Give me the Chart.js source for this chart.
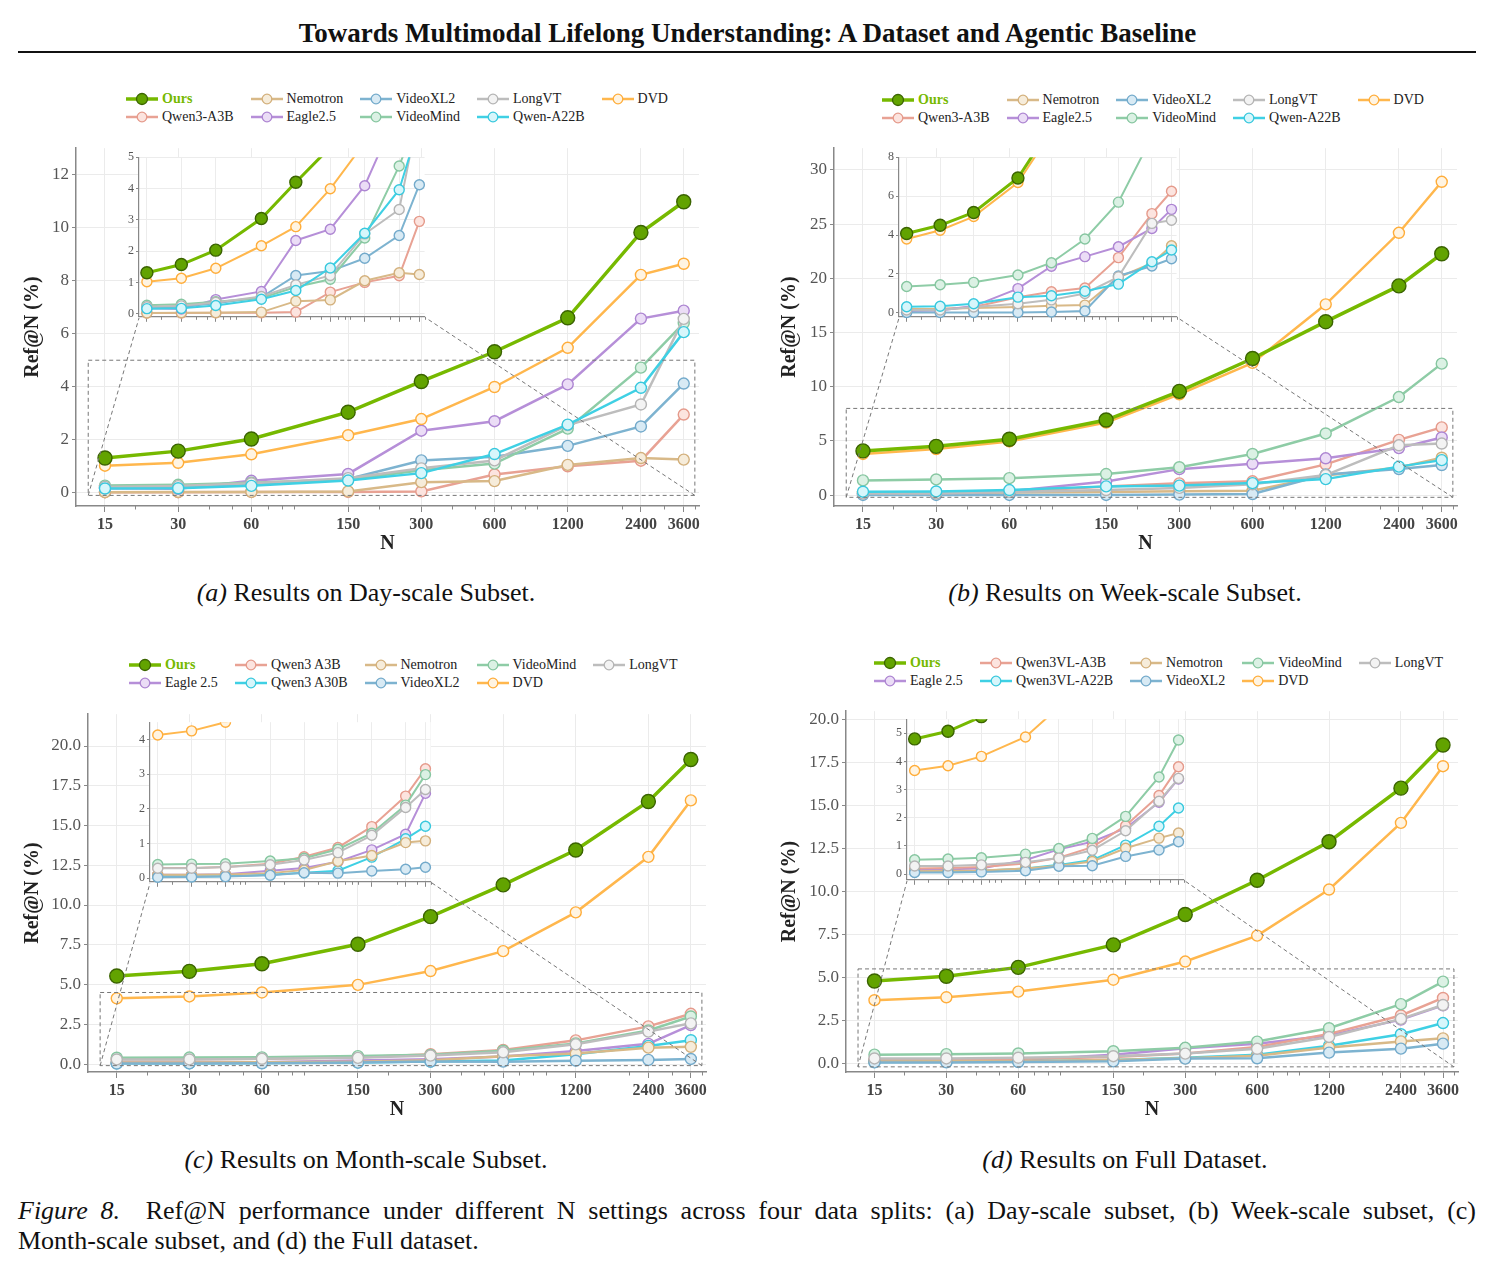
<!DOCTYPE html>
<html>
<head>
<meta charset="utf-8">
<script src="https://cdn.jsdelivr.net/npm/chart.js@4.4.1/dist/chart.umd.min.js"></script>
<style>
  body { margin: 0; background: #fff; font-family: "Liberation Serif", "Times New Roman", serif; color: #111; }
  #page { position: relative; width: 1495px; height: 1271px; overflow: hidden; }
  canvas { position: absolute; }
  #title { position: absolute; left: 0; width: 1495px; top: 17px; text-align: center; font-weight: bold; font-size: 27px; line-height: 32px; }
  #rule { position: absolute; left: 18px; width: 1458px; top: 51px; height: 2px; background: #111; }
  .legend { position: absolute; display: grid; grid-template-rows: 18px 18px; grid-auto-flow: column; column-gap: 17px; font-size: 14px; color: #222; }
  .li { display: flex; align-items: center; gap: 4px; white-space: nowrap; }
  .li.ours span { color: #76b900; font-weight: bold; }
  .cap { position: absolute; width: 700px; text-align: center; font-size: 26px; line-height: 30px; }
  .figcap { position: absolute; left: 18px; width: 1458px; font-size: 26px; line-height: 30px; }
</style>
</head>
<body>
<div id="page">
  <div id="title">Towards Multimodal Lifelong Understanding: A Dataset and Agentic Baseline</div>
  <div id="rule"></div>
  <div class="cap" style="left:16px;top:578px"><i>(a)</i> Results on Day-scale Subset.</div>
  <div class="cap" style="left:775px;top:578px"><i>(b)</i> Results on Week-scale Subset.</div>
  <div class="cap" style="left:16px;top:1145px"><i>(c)</i> Results on Month-scale Subset.</div>
  <div class="cap" style="left:775px;top:1145px"><i>(d)</i> Results on Full Dataset.</div>
  <div class="figcap" style="top:1196px;text-align:justify;text-align-last:justify"><i>Figure 8.</i>&nbsp; Ref@N performance under different N settings across four data splits: (a) Day-scale subset, (b) Week-scale subset, (c)</div>
  <div class="figcap" style="top:1226px">Month-scale subset, and (d) the Full dataset.</div>
</div>
<script>
// x positions (N) and minor log ticks
const nValues = [15, 30, 60, 150, 300, 600, 1200, 2400, 3600];
const nMinor = [20, 40, 50, 70, 80, 90, 200, 400, 500, 700, 800, 900, 2000, 3000, 4000];

// (a) Day-scale subset
const dayOurs      = [1.31, 1.57, 2.03, 3.04, 4.20, 5.32, 6.60, 9.82, 10.98];
const dayQwen3A3B  = [0.02, 0.02, 0.03, 0.03, 0.05, 0.69, 1.00, 1.21, 2.95];
const dayNemotron  = [0.02, 0.03, 0.03, 0.05, 0.40, 0.44, 1.05, 1.31, 1.25];
const dayEagle     = [0.17, 0.15, 0.45, 0.71, 2.34, 2.70, 4.09, 6.57, 6.87];
const dayVideoXL2  = [0.20, 0.22, 0.33, 0.52, 1.22, 1.36, 1.77, 2.50, 4.12];
const dayVideoMind = [0.27, 0.30, 0.38, 0.50, 0.85, 1.10, 2.42, 4.72, 6.40];
const dayLongVT    = [0.22, 0.25, 0.36, 0.55, 0.92, 1.22, 2.55, 3.33, 6.56];
const dayQwenA22B  = [0.16, 0.17, 0.26, 0.46, 0.74, 1.46, 2.57, 3.96, 6.06];
const dayDVD       = [1.02, 1.13, 1.45, 2.17, 2.78, 3.99, 5.47, 8.22, 8.64];

// (b) Week-scale subset
const weekOurs      = [4.08, 4.50, 5.16, 6.93, 9.57, 12.60, 16.00, 19.30, 22.26];
const weekQwen3A3B  = [0.20, 0.20, 0.30, 0.80, 1.09, 1.28, 2.84, 5.10, 6.25];
const weekNemotron  = [0.20, 0.20, 0.25, 0.30, 0.37, 0.40, 1.82, 2.55, 3.45];
const weekEagle     = [0.10, 0.12, 0.35, 1.25, 2.40, 2.89, 3.40, 4.34, 5.32];
const weekVideoXL2  = [0.02, 0.02, 0.02, 0.02, 0.05, 0.10, 1.90, 2.41, 2.78];
const weekVideoMind = [1.36, 1.45, 1.57, 1.95, 2.58, 3.80, 5.69, 9.05, 12.13];
const weekLongVT    = [0.15, 0.15, 0.30, 0.47, 0.67, 1.00, 1.85, 4.60, 4.76];
const weekQwenA22B  = [0.32, 0.34, 0.47, 0.81, 0.88, 1.11, 1.48, 2.63, 3.23];
const weekDVD       = [3.80, 4.25, 4.95, 6.70, 9.30, 12.20, 17.60, 24.20, 28.90];

// (c) Month-scale subset
const monthOurs      = [5.54, 5.83, 6.31, 7.53, 9.27, 11.27, 13.46, 16.51, 19.15];
const monthEagle     = [0.10, 0.10, 0.12, 0.22, 0.30, 0.48, 0.82, 1.27, 2.45];
const monthQwen3A3B  = [0.30, 0.30, 0.33, 0.42, 0.62, 0.89, 1.49, 2.37, 3.16];
const monthQwen3A30B = [0.05, 0.05, 0.06, 0.10, 0.16, 0.22, 0.61, 1.14, 1.50];
const monthNemotron  = [0.10, 0.10, 0.11, 0.15, 0.24, 0.49, 0.66, 1.03, 1.08];
const monthVideoXL2  = [0.03, 0.04, 0.05, 0.09, 0.16, 0.15, 0.21, 0.26, 0.32];
const monthVideoMind = [0.40, 0.41, 0.42, 0.50, 0.58, 0.84, 1.30, 2.11, 2.99];
const monthDVD       = [4.13, 4.25, 4.50, 4.98, 5.85, 7.10, 9.54, 13.03, 16.58];
const monthLongVT    = [0.29, 0.29, 0.33, 0.39, 0.53, 0.74, 1.24, 2.04, 2.56];

// (d) Full dataset
const fullOurs      = [4.80, 5.07, 5.59, 6.90, 8.67, 10.66, 12.90, 16.02, 18.53];
const fullEagle     = [0.15, 0.17, 0.20, 0.50, 0.88, 1.15, 1.63, 2.55, 3.38];
const fullQwen3A3B  = [0.20, 0.22, 0.25, 0.38, 0.58, 0.96, 1.72, 2.79, 3.81];
const fullQwen3A22B = [0.08, 0.10, 0.12, 0.20, 0.33, 0.50, 1.03, 1.70, 2.35];
const fullNemotron  = [0.10, 0.12, 0.13, 0.20, 0.30, 0.45, 0.92, 1.28, 1.46];
const fullVideoXL2  = [0.06, 0.06, 0.08, 0.12, 0.28, 0.30, 0.63, 0.86, 1.15];
const fullVideoMind = [0.51, 0.54, 0.58, 0.71, 0.91, 1.27, 2.05, 3.45, 4.76];
const fullDVD       = [3.68, 3.85, 4.18, 4.87, 5.93, 7.44, 10.12, 14.00, 17.30];
const fullLongVT    = [0.29, 0.29, 0.33, 0.42, 0.57, 0.85, 1.54, 2.59, 3.40];

// y tick labels
const dayYTicks = [0, 2, 4, 6, 8, 10, 12];
const weekYTicks = [0, 5, 10, 15, 20, 25, 30];
const monthYTicks = [0, 2.5, 5, 7.5, 10, 12.5, 15, 17.5, 20];
const fullYTicks = [0, 2.5, 5, 7.5, 10, 12.5, 15, 17.5, 20];
const dayInsetTicks = [0, 1, 2, 3, 4, 5];
const weekInsetTicks = [0, 2, 4, 6, 8];
const monthInsetTicks = [0, 1, 2, 3, 4];
const fullInsetTicks = [0, 1, 2, 3, 4, 5];

const STYLE = {
  ours:      { line: '#76b900', fill: '#62a300', edge: '#3b6400' },
  qwenSmall: { line: '#e8a294', fill: '#fce4df', edge: '#e59a8b' },
  nemotron:  { line: '#d8b988', fill: '#f6ecda', edge: '#d3b07c' },
  eagle:     { line: '#b68fd8', fill: '#ebddf6', edge: '#ad85d2' },
  videoxl2:  { line: '#7db3d0', fill: '#d8eaf4', edge: '#73aacb' },
  videomind: { line: '#8ecca6', fill: '#dbf1e4', edge: '#86c6a0' },
  longvt:    { line: '#bdbdbd', fill: '#f3f3f3', edge: '#b4b4b4' },
  qwenBig:   { line: '#3fd0e4', fill: '#d7f6fb', edge: '#38c8dd' },
  dvd:       { line: '#ffb74d', fill: '#fff4e2', edge: '#ffad3a' }
};

const panels = [
  { id: 'a', yMin: -0.5, yMax: 13, yTicks: dayYTicks, insetTicks: dayInsetTicks, dec: 0,
    zoom: { x0: 12.8, x1: 4000, y0: -0.1, y1: 5 },
    main: { left: 18, top: 135, L: 76, T: 145, R: 699, B: 506 },
    inset: { L: 139, T: 156, R: 426, B: 318 }, legend: { left: 126, top: 90 },
    series: [['Ours', 'ours', dayOurs], ['Qwen3-A3B', 'qwenSmall', dayQwen3A3B], ['Nemotron', 'nemotron', dayNemotron],
             ['Eagle2.5', 'eagle', dayEagle], ['VideoXL2', 'videoxl2', dayVideoXL2], ['VideoMind', 'videomind', dayVideoMind],
             ['LongVT', 'longvt', dayLongVT], ['Qwen-A22B', 'qwenBig', dayQwenA22B], ['DVD', 'dvd', dayDVD]] },
  { id: 'b', yMin: -1, yMax: 32, yTicks: weekYTicks, insetTicks: weekInsetTicks, dec: 0,
    zoom: { x0: 12.8, x1: 4000, y0: -0.2, y1: 8 },
    main: { left: 775, top: 135, L: 834, T: 145, R: 1457, B: 506 },
    inset: { L: 899, T: 156, R: 1178, B: 318 }, legend: { left: 882, top: 91 },
    series: [['Ours', 'ours', weekOurs], ['Qwen3-A3B', 'qwenSmall', weekQwen3A3B], ['Nemotron', 'nemotron', weekNemotron],
             ['Eagle2.5', 'eagle', weekEagle], ['VideoXL2', 'videoxl2', weekVideoXL2], ['VideoMind', 'videomind', weekVideoMind],
             ['LongVT', 'longvt', weekLongVT], ['Qwen-A22B', 'qwenBig', weekQwenA22B], ['DVD', 'dvd', weekDVD]] },
  { id: 'c', yMin: -0.5, yMax: 22, yTicks: monthYTicks, insetTicks: monthInsetTicks, dec: 1,
    zoom: { x0: 12.8, x1: 4000, y0: -0.1, y1: 4.5 },
    main: { left: 18, top: 701, L: 88, T: 711, R: 706, B: 1072 },
    inset: { L: 150, T: 721, R: 432, B: 883 }, legend: { left: 129, top: 656 },
    series: [['Ours', 'ours', monthOurs], ['Eagle 2.5', 'eagle', monthEagle], ['Qwen3 A3B', 'qwenSmall', monthQwen3A3B],
             ['Qwen3 A30B', 'qwenBig', monthQwen3A30B], ['Nemotron', 'nemotron', monthNemotron], ['VideoXL2', 'videoxl2', monthVideoXL2],
             ['VideoMind', 'videomind', monthVideoMind], ['DVD', 'dvd', monthDVD], ['LongVT', 'longvt', monthLongVT]] },
  { id: 'd', yMin: -0.5, yMax: 20.5, yTicks: fullYTicks, insetTicks: fullInsetTicks, dec: 1,
    zoom: { x0: 12.8, x1: 4000, y0: -0.2, y1: 5.5 },
    main: { left: 775, top: 698, L: 846, T: 708, R: 1458, B: 1072 },
    inset: { L: 907, T: 718, R: 1185, B: 881 }, legend: { left: 874, top: 654 },
    series: [['Ours', 'ours', fullOurs], ['Eagle 2.5', 'eagle', fullEagle], ['Qwen3VL-A3B', 'qwenSmall', fullQwen3A3B],
             ['Qwen3VL-A22B', 'qwenBig', fullQwen3A22B], ['Nemotron', 'nemotron', fullNemotron], ['VideoXL2', 'videoxl2', fullVideoXL2],
             ['VideoMind', 'videomind', fullVideoMind], ['DVD', 'dvd', fullDVD], ['LongVT', 'longvt', fullLongVT]] }
];

Chart.defaults.font.family = '"Liberation Serif", "Times New Roman", serif';
const page = document.getElementById('page');

const minorTicks = {
  id: 'minorTicks',
  afterDraw(chart, args, o) {
    const { ctx, chartArea, scales: { x } } = chart;
    ctx.save();
    ctx.strokeStyle = '#888';
    ctx.lineWidth = 1;
    nMinor.forEach(v => {
      if (v < x.min || v > x.max) return;
      const px = Math.round(x.getPixelForValue(v)) + 0.5;
      ctx.beginPath();
      ctx.moveTo(px, chartArea.bottom);
      ctx.lineTo(px, chartArea.bottom + o.len);
      ctx.stroke();
    });
    ctx.restore();
  }
};

const zoomBox = {
  id: 'zoomBox',
  afterDatasetsDraw(chart, args, o) {
    const { ctx, scales: { x, y } } = chart;
    const l = x.getPixelForValue(o.x0), r = x.getPixelForValue(o.x1);
    const t = y.getPixelForValue(o.y1), b = y.getPixelForValue(o.y0);
    ctx.save();
    ctx.setLineDash([4, 3]);
    ctx.strokeStyle = '#777';
    ctx.lineWidth = 1;
    ctx.strokeRect(l, t, r - l, b - t);
    ctx.beginPath();
    ctx.moveTo(l, b); ctx.lineTo(o.tl, o.tb);
    ctx.moveTo(r, b); ctx.lineTo(o.tr, o.tb);
    ctx.stroke();
    ctx.restore();
  }
};

const whiteBg = {
  id: 'whiteBg',
  beforeDraw(chart) {
    const { ctx, chartArea: a } = chart;
    ctx.save();
    ctx.fillStyle = '#fff';
    ctx.fillRect(a.left, a.top, a.right - a.left, a.bottom - a.top);
    ctx.restore();
  }
};

function addCanvas(left, top, w, h) {
  const c = document.createElement('canvas');
  c.width = w; c.height = h;
  c.style.left = left + 'px'; c.style.top = top + 'px';
  c.style.width = w + 'px'; c.style.height = h + 'px';
  page.appendChild(c);
  return c;
}

function datasets(p, small) {
  return p.series.map(([label, key, vals], i) => {
    const st = STYLE[key];
    const big = key === 'ours';
    return {
      label,
      data: nValues.map((n, j) => ({ x: n, y: vals[j] })),
      borderColor: st.line,
      backgroundColor: st.fill,
      pointBackgroundColor: st.fill,
      pointBorderColor: st.edge,
      pointBorderWidth: 1.4,
      pointRadius: big ? (small ? 6 : 7) : (small ? 5 : 5.5),
      borderWidth: big ? (small ? 3 : 3.5) : (small ? 2 : 2.5),
      tension: 0,
      order: big ? -100 : -i,
      clip: small ? { left: 6, right: 6, top: 0, bottom: 6 } : undefined
    };
  });
}

function makeInset(p) {
  const g = p.inset, yW = 22, pad = 8, xH = 8;
  const canvas = addCanvas(g.L - yW, g.T - pad, g.R - g.L + yW + 6, g.B - g.T + pad + xH);
  return new Chart(canvas, {
    type: 'line',
    data: { datasets: datasets(p, true) },
    options: {
      responsive: false, animation: false,
      layout: { padding: { top: pad, right: 6, left: 0, bottom: 0 } },
      plugins: { legend: { display: false }, tooltip: { enabled: false }, minorTicks: { len: 3 } },
      scales: {
        x: {
          type: 'logarithmic', min: p.zoom.x0, max: p.zoom.x1,
          afterBuildTicks: sc => { sc.ticks = nValues.map(v => ({ value: v })); },
          afterFit: sc => { sc.height = xH; },
          ticks: { display: false, autoSkip: false },
          grid: { color: '#ececec', tickColor: '#888', tickLength: 5 },
          border: { color: '#888', width: 1.2 }
        },
        y: {
          min: p.zoom.y0, max: p.zoom.y1,
          afterBuildTicks: sc => { sc.ticks = p.insetTicks.map(v => ({ value: v })); },
          afterFit: sc => { sc.width = yW; },
          ticks: { autoSkip: false, font: { size: 12 }, color: '#555', padding: 2, callback: v => String(v) },
          grid: { color: '#ececec', tickColor: '#888', tickLength: 3 },
          border: { color: '#888', width: 1.2 }
        }
      }
    },
    plugins: [whiteBg, minorTicks]
  });
}

function makeMain(p) {
  const g = p.main, xH = 54;
  const canvas = addCanvas(g.left, g.top, g.R + 24 - g.left, g.B + xH - g.top);
  const ins = p.inset;
  return new Chart(canvas, {
    type: 'line',
    data: { datasets: datasets(p, false) },
    options: {
      responsive: false, animation: false,
      layout: { padding: { top: g.T - g.top, right: 24, left: 0, bottom: 0 } },
      plugins: {
        legend: { display: false }, tooltip: { enabled: false },
        minorTicks: { len: 3.5 },
        zoomBox: { x0: p.zoom.x0, x1: p.zoom.x1, y0: p.zoom.y0, y1: p.zoom.y1,
                   tl: ins.L - g.left, tr: ins.R - g.left, tb: ins.B - g.top }
      },
      scales: {
        x: {
          type: 'logarithmic', min: 11.4, max: 4160,
          afterBuildTicks: sc => { sc.ticks = nValues.map(v => ({ value: v })); },
          afterFit: sc => { sc.height = xH; },
          ticks: { autoSkip: false, maxRotation: 0, padding: 3, color: '#444',
                   font: { size: 16, weight: 'bold' }, callback: v => String(v) },
          grid: { color: '#ebebeb', tickColor: '#888', tickLength: 6 },
          border: { color: '#888', width: 1.5 },
          title: { display: true, text: 'N', color: '#222', font: { size: 20, weight: 'bold' }, padding: { top: 0, bottom: 4 } }
        },
        y: {
          min: p.yMin, max: p.yMax,
          afterBuildTicks: sc => { sc.ticks = p.yTicks.map(v => ({ value: v })); },
          afterFit: sc => { sc.width = g.L - g.left; },
          ticks: { autoSkip: false, padding: 3, color: '#555', font: { size: 17 },
                   callback: v => Number(v).toFixed(p.dec) },
          grid: { color: '#ebebeb', tickColor: '#888', tickLength: 4 },
          border: { color: '#888', width: 1.5 },
          title: { display: true, text: 'Ref@N (%)', color: '#222', font: { size: 20, weight: 'bold' }, padding: { top: 3, bottom: 0 } }
        }
      }
    },
    plugins: [minorTicks, zoomBox]
  });
}

function makeLegend(p) {
  const box = document.createElement('div');
  box.className = 'legend';
  box.style.left = p.legend.left + 'px';
  box.style.top = p.legend.top + 'px';
  box.innerHTML = p.series.map(([label, key]) => {
    const st = STYLE[key];
    const big = key === 'ours';
    return `<div class="li${big ? ' ours' : ''}"><svg width="32" height="14">` +
      `<line x1="0" y1="7" x2="32" y2="7" stroke="${st.line}" stroke-width="${big ? 3.5 : 2.5}"/>` +
      `<circle cx="16" cy="7" r="${big ? 5.5 : 4.8}" fill="${st.fill}" stroke="${st.edge}" stroke-width="1.3"/>` +
      `</svg><span>${label}</span></div>`;
  }).join('');
  page.appendChild(box);
}

panels.forEach(p => {
  makeMain(p);
  makeInset(p);
  makeLegend(p);
});
</script>
</body>
</html>
